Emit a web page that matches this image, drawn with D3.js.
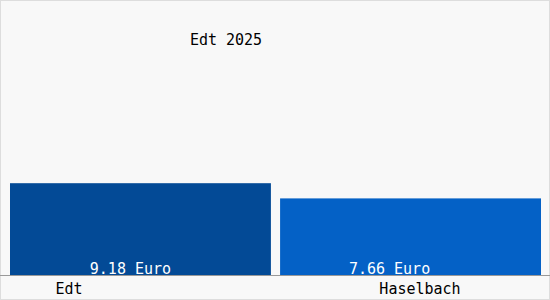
<!DOCTYPE html>
<html>
<head>
<meta charset="utf-8">
<script src="https://cdn.jsdelivr.net/npm/d3@7"></script>
<style>
  body { margin: 0; background: #fff; }
  text { font-family: "DejaVu Sans Mono", monospace; font-size: 15px; }
</style>
</head>
<body>
<div id="chart"></div>
<script>
const WIDTH = 550;
const HEIGHT = 300;

const title = "Edt 2025";
const categories = ["Edt", "Haselbach"];
const values = [9.18, 7.66];
const colors = ["#034a96", "#0461c6"];

const svg = d3.select('#chart')
    .append('svg')
    .attr('width', WIDTH)
    .attr('height', HEIGHT);

svg.append('rect')
    .attr('x', 0.5).attr('y', 0.5)
    .attr('width', WIDTH - 1).attr('height', HEIGHT - 1)
    .attr('fill', '#f8f8f8')
    .attr('stroke', '#dddddd');

// bars share a band scale, value scale ~10px per euro
const x = d3.scaleBand()
    .domain(categories)
    .range([10, 541])
    .paddingInner(0.034);

const y = d3.scaleLinear()
    .domain([0, 25])
    .range([275, 25]);

svg.selectAll('.bar')
    .data(values)
    .enter()
    .append('rect')
    .attr('x', (d, i) => x(categories[i]))
    .attr('y', d => y(d))
    .attr('width', x.bandwidth())
    .attr('height', d => y(0) - y(d))
    .attr('fill', (d, i) => colors[i]);

// value labels inside bars, shifted left like the original
const valShift = [-10, -21];
svg.selectAll('.val')
    .data(values)
    .enter()
    .append('text')
    .attr('x', (d, i) => x(categories[i]) + x.bandwidth() / 2 + valShift[i])
    .attr('y', 274)
    .attr('text-anchor', 'middle')
    .attr('fill', '#ffffff')
    .text(d => d.toFixed(2) + ' Euro');

// baseline
svg.append('line')
    .attr('x1', 0).attr('x2', WIDTH)
    .attr('y1', 275.5).attr('y2', 275.5)
    .attr('stroke', '#999999');

// category labels (offset left as in the original)
const labelX = [69, 420];
svg.selectAll('.cat')
    .data(categories)
    .enter()
    .append('text')
    .attr('x', (d, i) => labelX[i])
    .attr('y', 294)
    .attr('text-anchor', 'middle')
    .attr('fill', '#000')
    .text(d => d);

svg.append('text')
    .attr('x', 226)
    .attr('y', 45)
    .attr('text-anchor', 'middle')
    .attr('fill', '#000')
    .text(title);
</script>
</body>
</html>
